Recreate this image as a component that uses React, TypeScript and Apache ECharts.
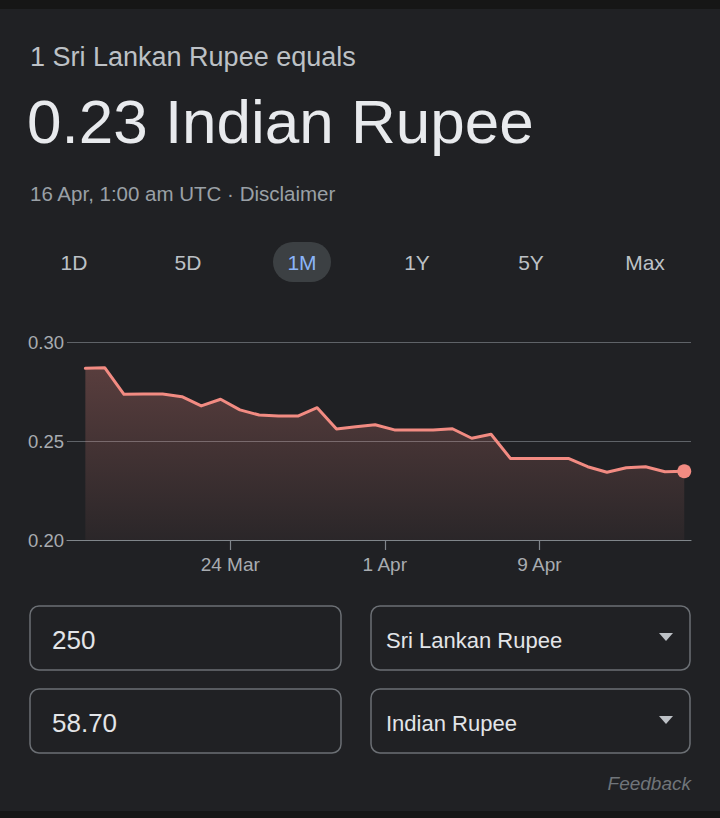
import React, { useEffect, useRef } from "react";
import * as echarts from "echarts";

// ---- data ----
const dates: string[] = [
  "2022-03-16T12:00:00Z", "2022-03-17T12:00:00Z", "2022-03-18T12:00:00Z", "2022-03-19T12:00:00Z",
  "2022-03-20T12:00:00Z", "2022-03-21T12:00:00Z", "2022-03-22T12:00:00Z", "2022-03-23T12:00:00Z",
  "2022-03-24T12:00:00Z", "2022-03-25T12:00:00Z", "2022-03-26T12:00:00Z", "2022-03-27T12:00:00Z",
  "2022-03-28T12:00:00Z", "2022-03-29T12:00:00Z", "2022-03-30T12:00:00Z", "2022-03-31T12:00:00Z",
  "2022-04-01T12:00:00Z", "2022-04-02T12:00:00Z", "2022-04-03T12:00:00Z", "2022-04-04T12:00:00Z",
  "2022-04-05T12:00:00Z", "2022-04-06T12:00:00Z", "2022-04-07T12:00:00Z", "2022-04-08T12:00:00Z",
  "2022-04-09T12:00:00Z", "2022-04-10T12:00:00Z", "2022-04-11T12:00:00Z", "2022-04-12T12:00:00Z",
  "2022-04-13T12:00:00Z", "2022-04-14T12:00:00Z", "2022-04-15T12:00:00Z", "2022-04-16T12:00:00Z",
];
const rates: number[] = [
  0.2867, 0.2870, 0.2736, 0.2737, 0.2737, 0.2724, 0.2677, 0.2711,
  0.2657, 0.2631, 0.2626, 0.2626, 0.2668, 0.2561, 0.2572, 0.2582,
  0.2556, 0.2556, 0.2556, 0.2562, 0.2514, 0.2534, 0.2412, 0.2412,
  0.2412, 0.2412, 0.2370, 0.2342, 0.2365, 0.2370, 0.2345, 0.2347,
];
const originDate = "2022-03-16T00:00:00Z";
const axisStart = "2022-03-15T13:12:00Z";
const axisEnd = "2022-04-16T20:24:00Z";
const tickDates: string[] = ["2022-03-24T00:00:00Z", "2022-04-01T00:00:00Z", "2022-04-09T00:00:00Z"];
const tickLabels: string[] = ["24 Mar", "1 Apr", "9 Apr"];
const yTicks: number[] = [0.2, 0.25, 0.3];
const ranges: string[] = ["1D", "5D", "1M", "1Y", "5Y", "Max"];
const activeRange = "1M";

const headerText = "1 Sri Lankan Rupee equals";
const valueText = "0.23 Indian Rupee";
const dateText = "16 Apr, 1:00 am UTC \u00b7 Disclaimer";
const fromAmount = "250";
const toAmount = "58.70";
const fromCurrency = "Sri Lankan Rupee";
const toCurrency = "Indian Rupee";

const FONT = "'Liberation Sans', Arial, Helvetica, sans-serif";
const DAY = 86400000;

export default function App() {
  const ref = useRef<HTMLDivElement>(null);

  useEffect(() => {
    if (!ref.current) return;
    const chart = echarts.init(ref.current, undefined, { renderer: "svg" });
    const origin = new Date(originDate).getTime();
    const dayOf = (s: string) => (new Date(s).getTime() - origin) / DAY;
    const tickDays = tickDates.map(dayOf);
    const lineData = dates.map((d, i) => [dayOf(d), rates[i]]);
    const last = lineData[lineData.length - 1];

    const rangeX = [74, 188, 302, 417, 531, 645];
    const graphics: any[] = [
      { type: "rect", shape: { x: 0, y: 0, width: 720, height: 9 }, style: { fill: "#161616" } },
      { type: "rect", shape: { x: 0, y: 811, width: 720, height: 7 }, style: { fill: "#161616" } },
      {
        type: "text",
        style: { text: headerText, x: 30, y: 57, fill: "#bdc1c6", fontSize: 27, fontFamily: FONT, align: "left", verticalAlign: "middle" },
      },
      {
        type: "text",
        style: { text: valueText, x: 27, y: 121, fill: "#e8eaed", fontSize: 62, fontFamily: FONT, align: "left", verticalAlign: "middle" },
      },
      {
        type: "text",
        style: { text: dateText, x: 30, y: 193, fill: "#9aa0a6", fontSize: 20.5, fontFamily: FONT, align: "left", verticalAlign: "middle" },
      },
      {
        type: "rect",
        shape: { x: 273, y: 242, width: 58, height: 40, r: 20 },
        style: { fill: "#3c4043" },
      },
    ];
    ranges.forEach((r, i) => {
      graphics.push({
        type: "text",
        style: {
          text: r, x: rangeX[i], y: 262.5,
          fill: r === activeRange ? "#8ab4f8" : "#bdc1c6",
          fontSize: 21, fontFamily: FONT, align: "center", verticalAlign: "middle",
        },
      });
    });
    const boxes = [
      { x: 30, y: 606, w: 311, text: fromAmount, size: 26, tri: false },
      { x: 371, y: 606, w: 319, text: fromCurrency, size: 22, tri: true },
      { x: 30, y: 689, w: 311, text: toAmount, size: 26, tri: false },
      { x: 371, y: 689, w: 319, text: toCurrency, size: 22, tri: true },
    ];
    boxes.forEach((b) => {
      graphics.push({
        type: "rect",
        shape: { x: b.x, y: b.y, width: b.w, height: 64, r: 9 },
        style: { fill: "none", stroke: "#6b6f74", lineWidth: 1.5 },
      });
      graphics.push({
        type: "text",
        style: {
          text: b.text, x: b.x + (b.tri ? 15 : 22), y: b.y + 34,
          fill: "#e3e5e8", fontSize: b.size, fontFamily: FONT, align: "left", verticalAlign: "middle",
        },
      });
      if (b.tri) {
        graphics.push({
          type: "polygon",
          shape: { points: [[659, b.y + 27], [673, b.y + 27], [666, b.y + 35]] },
          style: { fill: "#bdc1c6" },
        });
      }
    });
    graphics.push({
      type: "text",
      style: {
        text: "Feedback", x: 691, y: 783, fill: "#70757a", fontSize: 19, fontStyle: "italic",
        fontFamily: FONT, align: "right", verticalAlign: "middle",
      },
    });

    chart.setOption({
      animation: false,
      backgroundColor: "#202124",
      grid: { left: 67, right: 29, top: 342, bottom: 278, containLabel: false },
      xAxis: {
        type: "value",
        min: dayOf(axisStart),
        max: dayOf(axisEnd),
        axisLine: { show: true, lineStyle: { color: "#80868b", width: 1.2 } },
        axisTick: { show: true, customValues: tickDays, length: 10, lineStyle: { color: "#80868b", width: 1.2 } },
        axisLabel: {
          customValues: tickDays,
          formatter: (v: number) => {
            const idx = tickDays.findIndex((t) => Math.abs(t - v) < 1e-6);
            return idx >= 0 ? tickLabels[idx] : "";
          },
          color: "#a8acb1", fontSize: 19, fontFamily: FONT, margin: 15,
        },
        splitLine: { show: false },
      },
      yAxis: {
        type: "value",
        min: yTicks[0],
        max: yTicks[yTicks.length - 1],
        interval: 0.05,
        axisLine: { show: false },
        axisTick: { show: false },
        axisLabel: {
          formatter: (v: number) => v.toFixed(2),
          color: "#a8acb1", fontSize: 18.5, fontFamily: FONT, margin: 3,
        },
        splitLine: { lineStyle: { color: "#5f6368", width: 1 } },
      },
      series: [
        {
          type: "line",
          data: lineData,
          showSymbol: false,
          symbol: "none",
          lineStyle: { color: "#f28b82", width: 3, join: "round", cap: "round" },
          areaStyle: {
            opacity: 1,
            color: new echarts.graphic.LinearGradient(0, 0, 0, 1, [
              { offset: 0, color: "rgba(242,139,130,0.27)" },
              { offset: 1, color: "rgba(242,139,130,0.05)" },
            ]),
          },
          z: 3,
        },
        {
          type: "scatter",
          data: [last],
          symbol: "circle",
          symbolSize: 14,
          itemStyle: { color: "#f28b82", opacity: 1 },
          z: 4,
        },
      ],
      graphic: graphics,
    });
    return () => chart.dispose();
  }, []);

  return (
    <div
      ref={ref}
      style={{ position: "fixed", left: 0, top: 0, width: 720, height: 818, background: "#202124" }}
    />
  );
}
